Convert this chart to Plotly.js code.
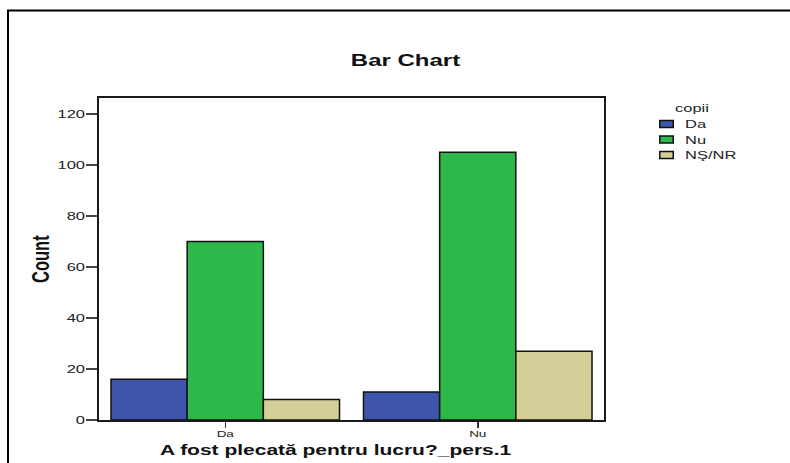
<!DOCTYPE html>
<html>
<head>
<meta charset="utf-8">
<script src="https://cdn.plot.ly/plotly-3.0.1.min.js"></script>
<style>
html,body{margin:0;padding:0;background:#fff;}
#chart{width:790px;height:463px;}
</style>
</head>
<body>
<div id="chart"></div>
<script>
const categories = ["Da", "Nu"];
const seriesNames = ["Da", "Nu", "NŞ/NR"];
const seriesDa = [16, 11];
const seriesNu = [70, 105];
const seriesNSNR = [8, 27];
const yTicks = [0, 20, 40, 60, 80, 100, 120];
const colors = ["#3d56ab", "#2eb84a", "#d3cf98"];

const W = 790, H = 463;
const L = 99, R = 604, T = 98, B = 420;
const pw = R - L, ph = B - T;
function px(x){ return (x - L) / pw; }
function py(y){ return (B - y) / ph; }

const seriesData = [seriesDa, seriesNu, seriesNSNR];
const traces = seriesData.map((vals, i) => ({
  type: "bar",
  name: seriesNames[i],
  x: categories,
  y: vals,
  marker: {color: colors[i], line: {color: "#111", width: 1.5}},
  hoverinfo: "none"
}));

const FONT = "Liberation Sans, Arial, sans-serif";
const layout = {
  width: W, height: H,
  margin: {l: L, r: W - R, t: T, b: H - B, pad: 0},
  paper_bgcolor: "#fff",
  plot_bgcolor: "#fff",
  barmode: "group",
  bargap: 0.095,
  bargroupgap: 0,
  font: {family: FONT, color: "#222", size: 11},
  title: {
    text: "<b>Bar Chart</b>",
    x: 406 / W, xanchor: "center",
    y: 1 - 60 / H, yanchor: "middle",
    font: {size: 16, color: "#111", family: FONT}
  },
  xaxis: {
    type: "category",
    range: [-0.5, 1.5],
    showline: true, linecolor: "#1a1a1a", linewidth: 2, mirror: true,
    ticks: "outside", ticklen: 6, tickwidth: 1.5, tickcolor: "#333",
    showgrid: false, zeroline: false,
    tickfont: {size: 9, color: "#222", family: FONT}
  },
  yaxis: {
    range: [0, (B - T) / 2.55],
    tickvals: yTicks,
    showline: true, linecolor: "#1a1a1a", linewidth: 2, mirror: true,
    ticks: "outside", ticklen: 11, tickwidth: 1.5, tickcolor: "#444",
    showgrid: false, zeroline: false,
    tickfont: {size: 11, color: "#222", family: FONT}
  },
  showlegend: true,
  legend: {
    x: px(648), xanchor: "left",
    y: py(98), yanchor: "top",
    title: {text: "copii", font: {size: 11, color: "#222", family: FONT}},
    font: {size: 11, color: "#222", family: FONT},
    bgcolor: "rgba(0,0,0,0)",
    tracegroupgap: 0
  },
  annotations: [
    {
      text: "<b>Count</b>",
      xref: "paper", yref: "paper",
      x: px(40), y: py(259),
      xanchor: "center", yanchor: "middle",
      textangle: -90, showarrow: false,
      font: {size: 16.5, color: "#111", family: "Liberation Sans Narrow, Arial Narrow, Liberation Sans, sans-serif"}
    },
    {
      text: "<b>A fost plecată pentru lucru?_pers.1</b>",
      xref: "paper", yref: "paper",
      x: px(336), y: py(450),
      xanchor: "center", yanchor: "middle",
      showarrow: false,
      font: {size: 14, color: "#111", family: FONT}
    }
  ],
  shapes: [
    {
      type: "path", xref: "paper", yref: "paper",
      path: "M " + px(8) + " " + py(475) + " L " + px(8) + " " + py(10.5) + " L " + px(800) + " " + py(10.5),
      line: {color: "#000", width: 2}
    }
  ]
};

// Screen-space placement helper: scale an element about an anchor and move it.
function place(el, o) {
  if (!el) return;
  const r = el.getBoundingClientRect();
  const pm = el.parentNode.getScreenCTM();
  const ox = pm ? pm.e : 0, oy = pm ? pm.f : 0;
  let ax = (r.left + r.right) / 2;
  if (o.anchor === "left") ax = r.left;
  if (o.anchor === "right") ax = r.right;
  const ay = (r.top + r.bottom) / 2;
  const tx = (o.x !== undefined ? o.x : ax) - ox;
  const ty = (o.y !== undefined ? o.y : ay) - oy;
  const sx = o.sx || 1, sy = o.sy || 1;
  const prev = el.getAttribute("transform") || "";
  el.setAttribute("transform",
    "translate(" + tx + "," + ty + ") scale(" + sx + "," + sy + ") translate(" + (-(ax - ox)) + "," + (-(ay - oy)) + ") " + prev);
}

Plotly.newPlot("chart", traces, layout, {staticPlot: true, displayModeBar: false}).then(gd => {
  const S = 1.5;
  place(gd.querySelector("text.gtitle"), {sx: S, anchor: "center", x: 406, y: 60.5});
  const anns = gd.querySelectorAll("g.annotation");
  place(anns[0], {sx: S, anchor: "center", x: 40, y: 259});
  place(anns[1], {sx: S, anchor: "center", x: 336, y: 450});
  gd.querySelectorAll("g.ytick text").forEach(t => place(t, {sx: S, anchor: "right", x: 85}));
  gd.querySelectorAll("g.xtick text").forEach(t => place(t, {sx: S, anchor: "center", y: 434}));
  gd.querySelectorAll(".legend [clip-path]").forEach(e => e.removeAttribute("clip-path"));
  place(gd.querySelector(".legend .legendtitletext"), {sx: S, anchor: "left", x: 675, y: 108});
  const items = gd.querySelectorAll(".legend g.traces");
  items.forEach((g, i) => {
    const cy = 124 + 15.5 * i;
    place(g.querySelector("text.legendtext"), {sx: S, anchor: "left", x: 685, y: cy});
    const p = g.querySelector(".legendpoints path");
    if (p) {
      p.style.vectorEffect = "non-scaling-stroke";
      place(p, {sx: 13.5 / 12, sy: 7 / 12, anchor: "center", x: 666.5, y: cy});
    }
  });
});
</script>
</body>
</html>
